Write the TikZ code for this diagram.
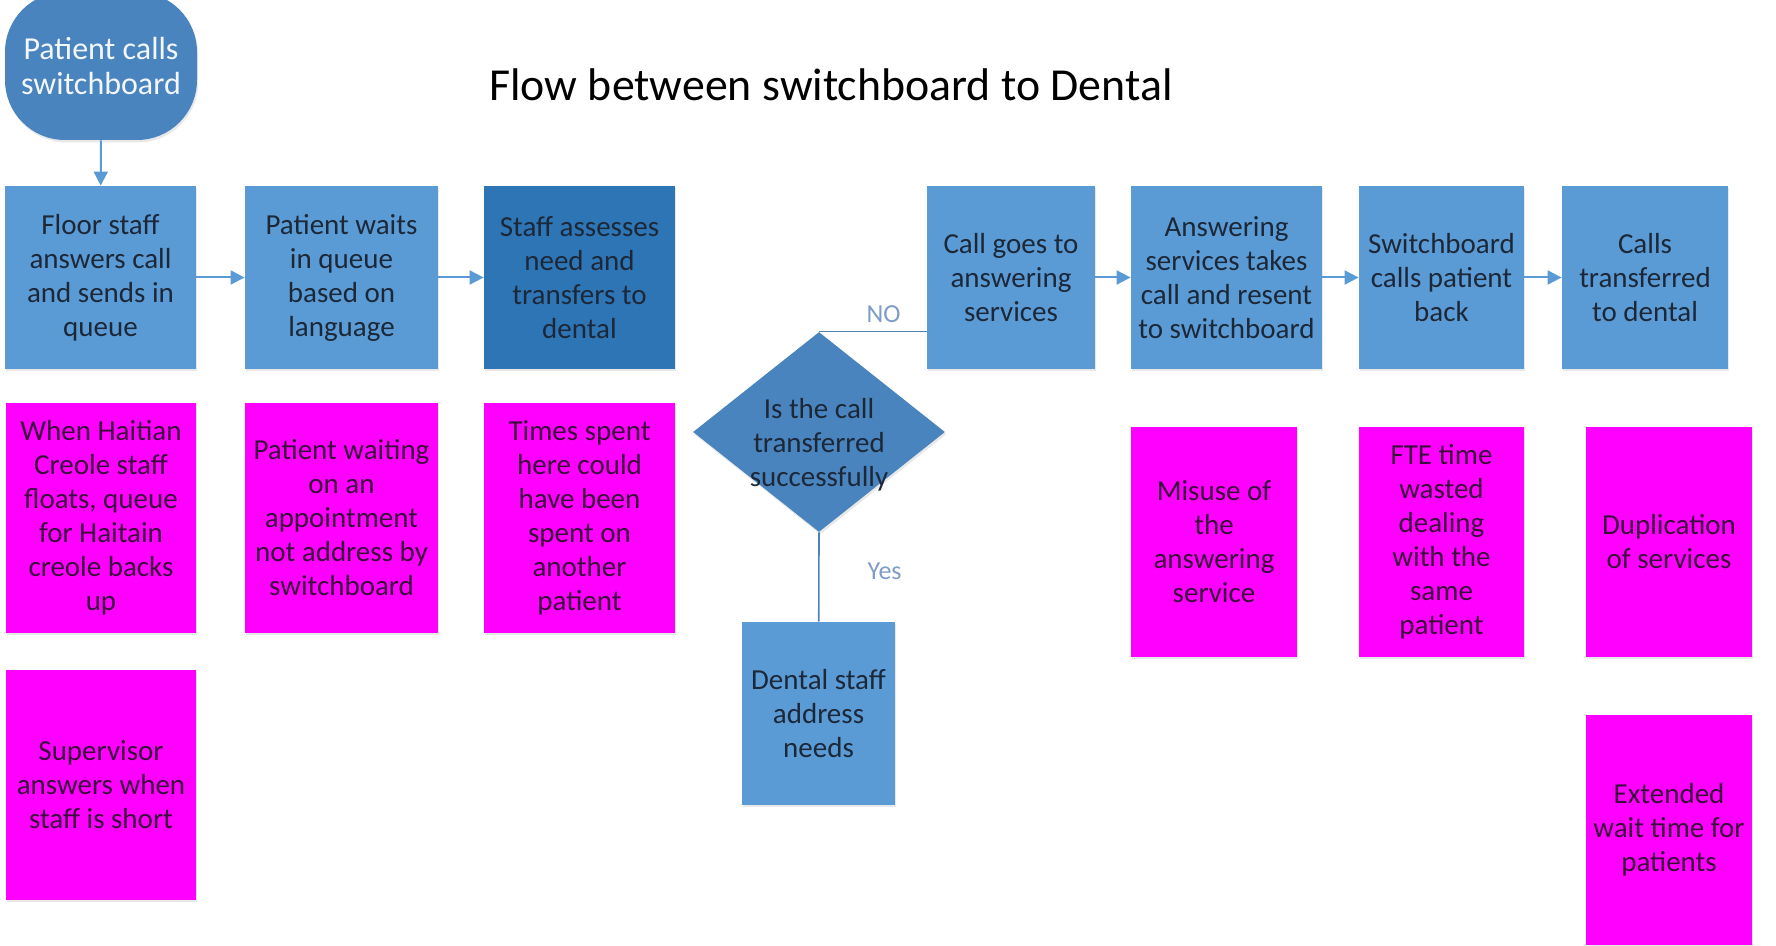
\documentclass[tikz,border=0pt]{standalone}
\usepackage{fontspec}
\setmainfont{Carlito}
\usetikzlibrary{shapes.geometric,arrows.meta,shadows}

\definecolor{boxblue}{HTML}{5B9BD5}
\definecolor{darkblue}{HTML}{2E75B6}
\definecolor{midblue}{HTML}{4A84BE}
\definecolor{inkblue}{HTML}{1C2838}
\definecolor{hotpink}{HTML}{FF00FF}
\definecolor{inkpink}{HTML}{3A0E3C}
\definecolor{lblblue}{HTML}{7E9CC6}

\begin{document}
\begin{tikzpicture}[x=0.5pt,y=-0.5pt,
  proc/.style={rectangle,fill=boxblue,text=inkblue,align=center,inner sep=0pt,minimum height=91.5pt,
    font=\fontsize{14.5}{17}\selectfont,drop shadow={shadow xshift=0.6pt,shadow yshift=-1.2pt,opacity=0.18}},
  waste/.style={rectangle,fill=hotpink,text=inkpink,align=center,inner sep=0pt,minimum height=115pt,
    font=\fontsize{14.5}{17}\selectfont,drop shadow={shadow xshift=0.6pt,shadow yshift=-1.2pt,opacity=0.18}},
  decide/.style={diamond,fill=midblue,text=inkblue,inner sep=0pt,minimum width=126pt,minimum height=100pt,
    font=\fontsize{14.5}{17}\selectfont,drop shadow={shadow xshift=0.6pt,shadow yshift=-1.2pt,opacity=0.18}},
  arr/.style={draw=boxblue,line width=1pt,-{Triangle[length=7pt,width=7pt]}},
  link/.style={draw=boxblue!85!black,line width=0.8pt},
  lbl/.style={text=lblblue,font=\fontsize{13}{15}\selectfont,inner sep=1pt}
]
\useasboundingbox (0,0) rectangle (1776,946);

\node[anchor=base,font=\fontsize{22.9}{27}\selectfont] (title) at (831,101) {Flow between switchboard to Dental};

\node[proc,fill=midblue,text=white!92!boxblue,rounded corners=30pt,minimum width=96pt,minimum height=74pt,
  font=\fontsize{16}{17.5}\selectfont] (call) at (101,66) {Patient calls\\switchboard};

% main row
\node[proc,minimum width=95.5pt] (floor) at (100.5,277.5) {Floor staff\\answers call\\and sends in\\queue};
\node[proc,minimum width=96.5pt] (wait) at (341.5,277.5) {Patient waits\\in queue\\based on\\language};
\node[proc,fill=darkblue,minimum width=95.5pt] (assess) at (579.5,277.5) {Staff assesses\\need and\\transfers to\\dental};
\node[decide] (ask) at (819,432) {\makebox[40pt]{\raisebox{-7pt}[\height][\depth]{\begin{tabular}{@{}c@{}}Is the call\\transferred\\successfully\end{tabular}}}};
\node[proc,minimum width=76.5pt] (dental) at (818.5,713.5) {Dental staff\\address\\needs};
\node[proc,minimum width=84pt] (answer) at (1011,277.5) {Call goes to\\answering\\services};
\node[proc,minimum width=95.5pt] (resend) at (1226.5,277.5) {Answering\\services takes\\call and resent\\to switchboard};
\node[proc,minimum width=82.5pt] (back) at (1441.5,277.5) {Switchboard\\calls patient\\back};
\node[proc,minimum width=83pt] (transfer) at (1645,277.5) {Calls\\transferred\\to dental};

% waste notes
\node[waste,minimum width=95pt] (haitian) at (101,518) {When Haitian\\Creole staff\\floats, queue\\for Haitain\\creole backs\\up};
\node[waste,minimum width=95pt] (superv) at (101,785) {Supervisor\\answers when\\staff is short};
\node[waste,minimum width=96.5pt] (appt) at (341.5,518) {Patient waiting\\on an\\appointment\\not address by\\switchboard};
\node[waste,minimum width=95.5pt] (spent) at (579.5,518) {Times spent\\here could\\have been\\spent on\\another\\patient};
\node[waste,minimum width=83pt] (misuse) at (1214,542) {Misuse of\\the\\answering\\service};
\node[waste,minimum width=82.5pt] (fte) at (1441.5,542) {FTE time\\wasted\\dealing\\with the\\same\\patient};
\node[waste,minimum width=83pt] (dup) at (1669,542) {Duplication\\of services};
\node[waste,minimum width=83pt] (extend) at (1669,829.5) {Extended\\wait time for\\patients};

\draw[arr] (call) -- (floor);
\draw[arr] (floor) -- (wait);
\draw[arr] (wait) -- (assess);
\draw[arr] (answer) -- (resend);
\draw[arr] (resend) -- (back);
\draw[arr] (back) -- (transfer);
\draw[link] (ask.north) -- node[lbl,above=3pt,pos=0.6] {NO} (ask.north -| answer.west);
\draw[link] (ask.south) -- node[lbl,right=23pt,pos=0.43] {Yes} (dental);

\end{tikzpicture}
\end{document}
